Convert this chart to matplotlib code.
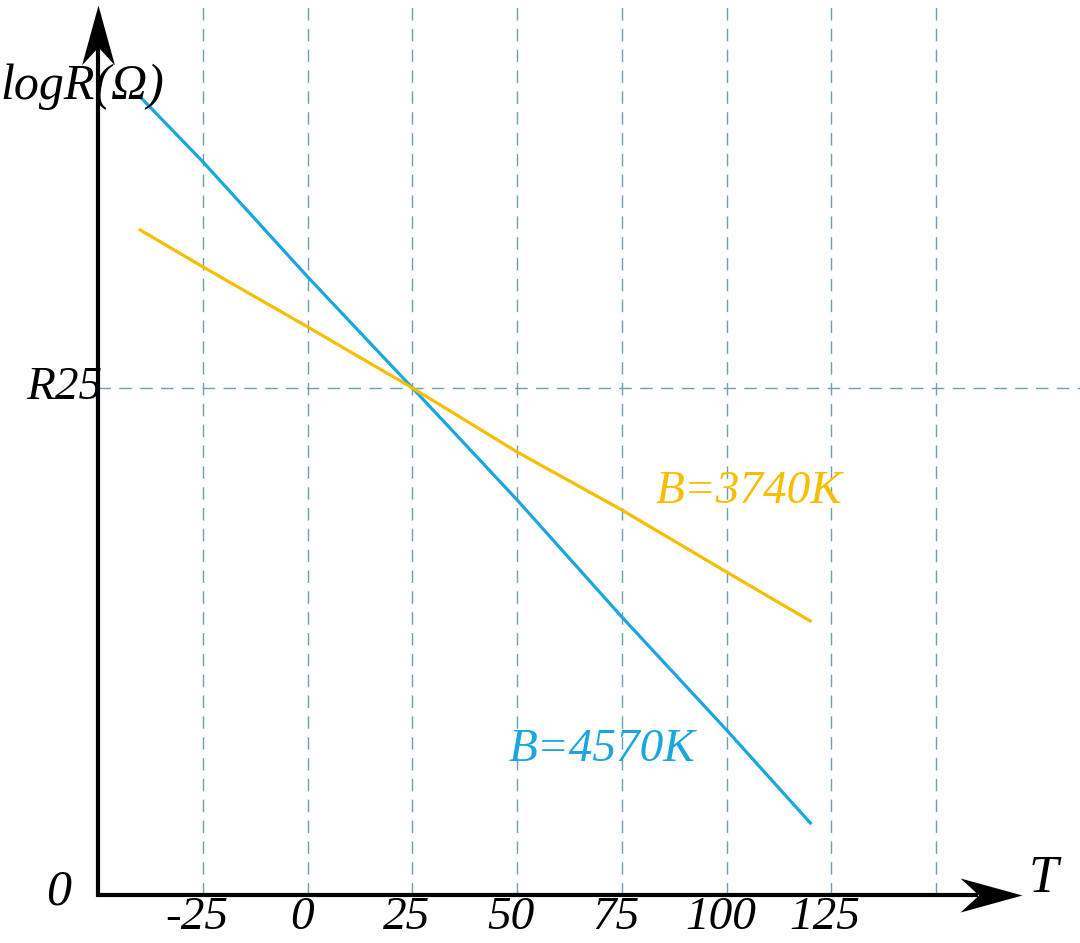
import matplotlib
matplotlib.use('Agg')
import matplotlib.pyplot as plt
from matplotlib.path import Path

# temperature (°C) and log R (arbitrary units, 0 at the T axis)
temps = [-40, -25, 0, 25, 50, 75, 100, 120]
logr_b4570 = [798, 733, 618, 507, 395, 278, 165, 72]
logr_b3740 = [665, 628, 568, 507, 443, 385, 323, 274]
r25 = 507

grid_temps = [-25, 0, 25, 50, 75, 100, 125, 150]
tick_labels = ['-25', '0', '25', '50', '75', '100', '125']

blue = '#1ba6de'
yellow = '#f6be00'
grid_color = '#6f9eae'
serif = ['Liberation Serif', 'DejaVu Serif']

fig = plt.figure(figsize=(10.8, 9.43), dpi=100)
ax = fig.add_axes([0, 0, 1, 1])
ax.set_xlim(-73.5, 184.4)
ax.set_ylim(-48, 895)
ax.axis('off')

x0 = -50  # where the logR axis stands

# dashed grid
for t in grid_temps:
    ax.plot([t, t], [0, 895], color=grid_color, lw=1.0, ls=(0, (9, 6)), zorder=1)
ax.plot([x0, 184.4], [r25, r25], color=grid_color, lw=1.0, ls=(0, (9, 6)), zorder=1)

# curves
ax.plot(temps, logr_b4570, color=blue, lw=2.3, zorder=3)
ax.plot(temps, logr_b3740, color=yellow, lw=2.3, zorder=3)

# axes, with stealth-style arrow heads
ax.plot([x0 - 0.4, 160], [0, 0], color='black', lw=3, solid_capstyle='butt', zorder=4)
ax.plot([x0, x0], [-1.5, 850], color='black', lw=3, solid_capstyle='butt', zorder=4)
head_right = Path([(1, 0), (-1, 0.55), (-0.4, 0), (-1, -0.55), (1, 0)],
                  [Path.MOVETO, Path.LINETO, Path.LINETO, Path.LINETO, Path.CLOSEPOLY])
head_up = Path([(0, 1), (0.55, -1), (0, -0.4), (-0.55, -1), (0, 1)],
               [Path.MOVETO, Path.LINETO, Path.LINETO, Path.LINETO, Path.CLOSEPOLY])
ax.plot([163.1], [0], marker=head_right, ms=44.6, color='black', mew=0, zorder=5)
ax.plot([x0], [860], marker=head_up, ms=43, color='black', mew=0, zorder=5)

# labels
for t, lab in zip(grid_temps, tick_labels):
    ax.text(t - 1.5, -23, lab, fontsize=34, family=serif, style='italic',
            ha='center', va='center')
ax.text(-56.5, 3, '0', fontsize=36, family=serif, style='italic', ha='right', va='center')
ax.text(-49, r25, 'R25', fontsize=34, family=serif, style='italic', ha='right', va='center')
ax.text(-73.5, 808, 'logR(Ω)', fontsize=36, family=serif, style='italic', ha='left', va='center')
ax.text(172, 16, 'T', fontsize=38, family=serif, style='italic', ha='left', va='center')
ax.text(83, 403, 'B=3740K', fontsize=34, family=serif, style='italic', color=yellow,
        ha='left', va='center')
ax.text(48, 145, 'B=4570K', fontsize=34, family=serif, style='italic', color=blue,
        ha='left', va='center')

fig.savefig('out.png', dpi=100)
